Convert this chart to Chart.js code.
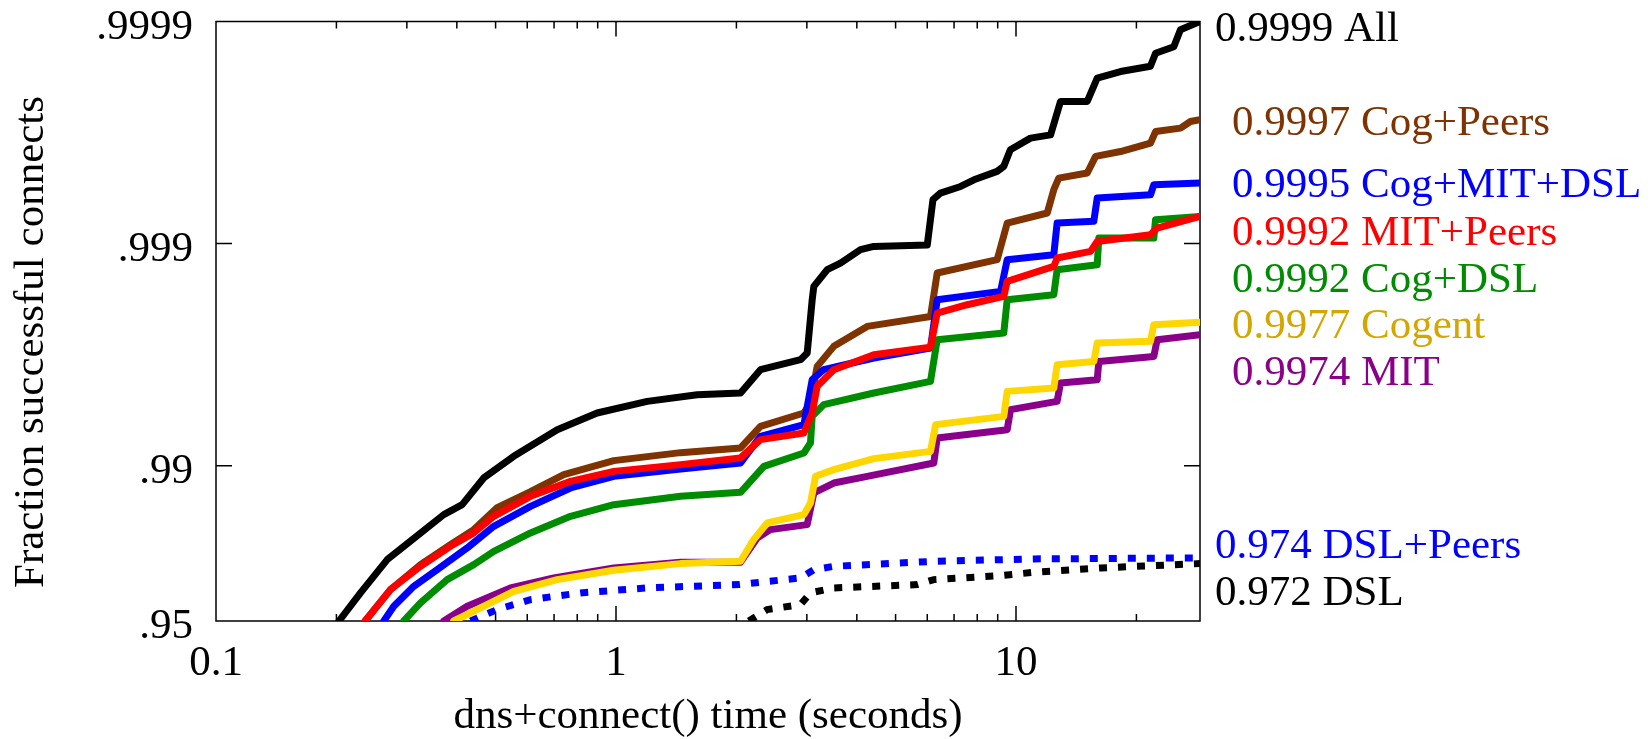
<!DOCTYPE html>
<html>
<head>
<meta charset="utf-8">
<script src="https://cdn.jsdelivr.net/npm/chart.js@4/dist/chart.umd.min.js"></script>
<style>
  html, body { margin: 0; padding: 0; background: #fff; }
  #wrap { width: 1650px; height: 739px; }
</style>
</head>
<body>
<div id="wrap"><canvas id="c" width="1650" height="739"></canvas></div>
<script>
// ---- data: [seconds, fraction successful] ----
const allSeries = [[0.203,0.95],[0.230,0.96276],[0.268,0.97354],[0.306,0.97811],[0.371,0.98340],[0.4125,0.98503],[0.467,0.98865],[0.555,0.99093],[0.713,0.99312],[0.897,0.994213],[1.197,0.994869],[1.596,0.995214],[2.048,0.995297],[2.297,0.996306],[2.893,0.996669],[3.006,0.996893],[3.094,0.998212],[3.123,0.998442],[3.373,0.998689],[3.641,0.998777],[4.086,0.998935],[4.411,0.998971],[6.0,0.998985],[6.2,0.999366],[6.47,0.999408],[7.27,0.999447],[7.85,0.999484],[8.97,0.999527],[9.32,0.999551],[9.68,0.999622],[10.87,0.999665],[12.2,0.999676],[12.92,0.999771],[15.07,0.999771],[15.96,0.999820],[18.25,0.999832],[21.68,0.999841],[22.33,0.999861],[24.8,0.999870],[25.77,0.999891],[28.84,0.9999]];
const cogPeers = [[0.236,0.95],[0.273,0.96389],[0.3245,0.97213],[0.3855,0.97735],[0.441,0.98061],[0.5047,0.98456],[0.6113,0.98692],[0.7404,0.98903],[0.9874,0.990516],[1.45,0.99127],[2.048,0.991683],[2.297,0.99335],[2.949,0.994213],[3.063,0.994783],[3.184,0.99643],[3.503,0.997099],[4.246,0.997641],[6.113,0.997873],[6.353,0.998644],[8.974,0.998819],[9.506,0.999192],[11.97,0.999272],[12.43,0.999428],[12.79,0.999493],[15.07,0.999519],[15.81,0.999595],[18.25,0.999615],[21.69,0.999647],[22.33,0.999687],[25.78,0.999698],[27.3,0.999718],[28.84,0.999723]];
const cogMitDsl = [[0.2627,0.95],[0.2783,0.95707],[0.3122,0.9651],[0.3573,0.97065],[0.4246,0.97656],[0.4948,0.98126],[0.6113,0.98477],[0.7697,0.98741],[0.9874,0.98884],[1.45,0.98966],[2.048,0.990286],[2.297,0.992626],[2.949,0.993469],[3.094,0.995902],[3.306,0.996306],[4.411,0.996727],[6.113,0.997044],[6.353,0.998212],[9.149,0.998359],[9.506,0.998819],[12.43,0.998878],[12.67,0.999192],[15.65,0.999206],[15.96,0.999377],[21.69,0.999397],[22.11,0.999457],[28.84,0.999466]];
const mitPeers = [[0.236,0.95],[0.273,0.96389],[0.3245,0.97163],[0.3855,0.97695],[0.441,0.97994],[0.4948,0.98311],[0.6113,0.98627],[0.7697,0.98824],[0.9874,0.98940],[1.45,0.990114],[2.048,0.990776],[2.297,0.992371],[2.949,0.992881],[3.094,0.994213],[3.184,0.995608],[3.503,0.996306],[4.411,0.996838],[6.113,0.997075],[6.353,0.997947],[7.551,0.998116],[9.322,0.998271],[9.506,0.998521],[12.43,0.998733],[12.67,0.998839],[15.36,0.998916],[15.96,0.999022],[21.69,0.999088],[22.54,0.999149],[28.84,0.999246]];
const cogDsl = [[0.2947,0.95],[0.3245,0.95855],[0.3784,0.96744],[0.441,0.97213],[0.4948,0.97572],[0.6113,0.97994],[0.7697,0.98311],[0.9874,0.98503],[1.45,0.98627],[2.048,0.98683],[2.342,0.98994],[2.949,0.991242],[3.063,0.992105],[3.094,0.994005],[3.306,0.994691],[4.411,0.995297],[6.113,0.995829],[6.353,0.997293],[9.322,0.997475],[9.506,0.998212],[12.43,0.998302],[12.67,0.998689],[15.96,0.998755],[16.11,0.999056],[22.11,0.999056],[22.33,0.999220],[28.84,0.999246]];
const cogent = [[0.393,0.95],[0.4583,0.95635],[0.5552,0.96325],[0.7129,0.96744],[0.9874,0.97044],[1.45,0.97242],[2.048,0.97307],[2.209,0.97849],[2.388,0.98191],[2.949,0.98340],[3.063,0.98529],[3.154,0.98884],[3.503,0.98959],[4.411,0.990710],[6.113,0.991386],[6.295,0.993469],[9.322,0.994005],[9.506,0.995374],[12.43,0.995534],[12.67,0.996492],[15.65,0.996610],[15.96,0.997199],[21.69,0.997246],[22.11,0.997683],[28.84,0.997738]];
const mit = [[0.3711,0.95],[0.4246,0.95707],[0.5447,0.96452],[0.6988,0.96801],[0.9874,0.97116],[1.45,0.97279],[2.048,0.97279],[2.254,0.97887],[2.433,0.98061],[3.006,0.98159],[3.123,0.98674],[3.503,0.98804],[4.246,0.98884],[6.23,0.990286],[6.353,0.992503],[9.506,0.99312],[9.689,0.99441],[12.67,0.994869],[12.92,0.995759],[15.96,0.995902],[16.11,0.996610],[22.11,0.996781],[22.54,0.997293],[28.84,0.997430]];
const dslPeers = [[0.4327,0.95],[0.5047,0.95558],[0.6113,0.95996],[0.815,0.96264],[1.197,0.96452],[2.028,0.96571],[2.893,0.96801],[3.123,0.97065],[3.503,0.97163],[6.23,0.97307],[11.08,0.97373],[28.84,0.97400]];
const dsl = [[2.148,0.95],[2.388,0.95558],[2.893,0.95782],[3.063,0.96264],[3.503,0.96452],[5.662,0.96571],[6.23,0.96744],[9.149,0.96876],[11.08,0.96982],[16.27,0.97116],[28.84,0.97242]];

// ---- axes ----
const xTickValues = [0.1,0.2,0.3,0.4,0.5,0.6,0.7,0.8,0.9,1,2,3,4,5,6,7,8,9,10,20];
const xTickLabels = {0.1:'0.1', 1:'1', 10:'10'};
const xMin = 0.1, xMax = 28.84;
const yTickValues = [0.95, 0.99, 0.999, 0.9999];
const yTickLabels = ['.95', '.99', '.999', '.9999'];
const xTitle = 'dns+connect() time (seconds)';
const yTitle = 'Fraction successful connects';

// end-of-line labels (text, colour)
const endLabels = [
  ['0.9999 All', '#000000'],
  ['0.9997 Cog+Peers', '#7f3300'],
  ['0.9995 Cog+MIT+DSL', '#0000ff'],
  ['0.9992 MIT+Peers', '#ff0000'],
  ['0.9992 Cog+DSL', '#008c00'],
  ['0.9977 Cogent', '#d4a600'],
  ['0.9974 MIT', '#8b008b'],
  ['0.974 DSL+Peers', '#0000ff'],
  ['0.972 DSL', '#000000']
];
// label placement (offset right of plot, baseline from top of canvas)
const endLabelPos = [[15,41],[32,135],[32,197],[32,245],[32,292],[32,338],[32,385],[15,558],[15,605]];

const toNines = f => -Math.log10(1 - f);
const pts = s => s.map(([t, f]) => ({x: t, y: toNines(f)}));

const FONT = 'Liberation Serif';
Chart.defaults.font.family = FONT;
Chart.defaults.color = '#000';

function ds(label, series, color, order, dashed) {
  return {
    label, data: pts(series), borderColor: color, backgroundColor: color,
    borderWidth: 7, pointRadius: 0, tension: 0, fill: false, order,
    borderJoinStyle: dashed ? 'miter' : 'round', borderCapStyle: dashed ? 'butt' : 'round',
    borderDash: dashed ? [8, 11] : []
  };
}

const decor = {
  id: 'decor',
  beforeDatasetsDraw(chart) {
    const {ctx, chartArea: a, scales: {x, y}} = chart;
    ctx.save();
    ctx.strokeStyle = '#000';
    ctx.lineWidth = 1.5;
    ctx.strokeRect(a.left, a.top, a.right - a.left, a.bottom - a.top);
    ctx.beginPath();
    x.ticks.forEach(t => {
      const px = x.getPixelForValue(t.value);
      if (px <= a.left + 1 || px >= a.right - 1) return;
      const len = xTickLabels[t.value] ? 15 : 7;
      ctx.moveTo(px, a.bottom); ctx.lineTo(px, a.bottom - len);
      ctx.moveTo(px, a.top); ctx.lineTo(px, a.top + len);
    });
    y.ticks.forEach(t => {
      const py = y.getPixelForValue(t.value);
      if (py <= a.top + 1 || py >= a.bottom - 1) return;
      ctx.moveTo(a.left, py); ctx.lineTo(a.left + 16, py);
      ctx.moveTo(a.right, py); ctx.lineTo(a.right - 16, py);
    });
    ctx.stroke();
    ctx.restore();
  },
  afterDraw(chart) {
    const {ctx, chartArea: a} = chart;
    ctx.save();
    ctx.font = '43px "' + FONT + '"';
    ctx.textBaseline = 'alphabetic';
    ctx.textAlign = 'left';
    endLabels.forEach(([txt, col], i) => {
      ctx.fillStyle = col;
      ctx.fillText(txt, a.right + endLabelPos[i][0], endLabelPos[i][1]);
    });
    // y title
    ctx.fillStyle = '#000';
    ctx.translate(43, 342);
    ctx.rotate(-Math.PI / 2);
    ctx.textAlign = 'center';
    ctx.fillText(yTitle, 0, 0);
    ctx.restore();
  }
};

new Chart(document.getElementById('c'), {
  type: 'line',
  data: {
    datasets: [
      ds('Cogent', cogent, '#ffd700', 1),
      ds('MIT', mit, '#8b008b', 2),
      ds('MIT+Peers', mitPeers, '#ff0000', 3),
      ds('Cog+DSL', cogDsl, '#008c00', 4),
      ds('Cog+MIT+DSL', cogMitDsl, '#0000ff', 5),
      ds('Cog+Peers', cogPeers, '#7f3300', 6),
      ds('All', allSeries, '#000000', 7),
      ds('DSL+Peers', dslPeers, '#0000ff', 8, true),
      ds('DSL', dsl, '#000000', 9, true)
    ]
  },
  options: {
    responsive: false,
    animation: false,
    events: [],
    layout: { padding: { left: 0, right: 450, top: 21.5, bottom: 0 } },
    plugins: { legend: { display: false }, tooltip: { enabled: false } },
    scales: {
      x: {
        type: 'logarithmic', position: 'bottom', min: xMin, max: xMax,
        grid: { display: false, drawTicks: false },
        border: { display: false },
        afterBuildTicks: s => { s.ticks = xTickValues.map(v => ({value: v})); },
        afterFit: s => { s.height = 118; s.paddingLeft = 0; s.paddingRight = 0; },
        ticks: {
          autoSkip: false, maxRotation: 0, minRotation: 0, padding: 17,
          font: { size: 43, lineHeight: 1.2 }, color: '#000',
          callback: v => xTickLabels[v] || ''
        },
        title: { display: true, text: xTitle, font: { size: 43, lineHeight: 1 }, color: '#000', padding: { top: 0, bottom: 1 } }
      },
      y: {
        type: 'linear', position: 'left', min: toNines(0.95), max: toNines(0.9999),
        grid: { display: false, drawTicks: false },
        border: { display: false },
        afterBuildTicks: s => { s.ticks = yTickValues.map(f => ({value: toNines(f)})); },
        afterFit: s => { s.width = 216; s.paddingTop = 0; s.paddingBottom = 0; },
        ticks: {
          autoSkip: false, padding: 23, labelOffset: 6,
          font: { size: 43 }, color: '#000',
          callback: (v, i) => yTickLabels[i]
        }
      }
    }
  },
  plugins: [decor]
});
</script>
</body>
</html>
